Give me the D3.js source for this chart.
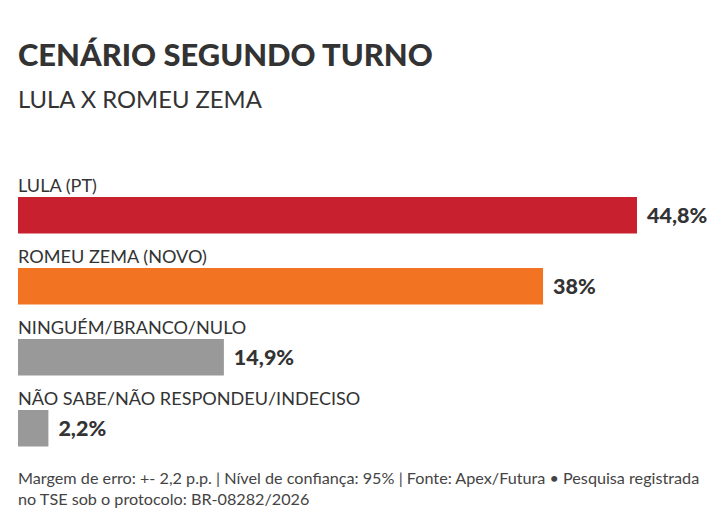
<!DOCTYPE html>
<html>
<head>
<meta charset="utf-8">
<script src="https://cdn.jsdelivr.net/npm/d3@7"></script>
<style>
  html, body { margin: 0; padding: 0; background: #fff; }
  svg { display: block; font-family: "Source Sans Pro", Lato, "Noto Sans", sans-serif; }
</style>
</head>
<body>
<svg id="chart" width="708" height="521"></svg>
<script>
var categories = ['LULA (PT)', 'ROMEU ZEMA (NOVO)', 'NINGUÉM/BRANCO/NULO', 'NÃO SABE/NÃO RESPONDEU/INDECISO'];
var values = [44.8, 38, 14.9, 2.2];
var valueLabels = ['44,8%', '38%', '14,9%', '2,2%'];
var colors = ['#c8202e', '#f27322', '#999999', '#999999'];

var title = 'CENÁRIO SEGUNDO TURNO';
var subtitle = 'LULA X ROMEU ZEMA';
var footer = [
  'Margem de erro: +- 2,2 p.p. | Nível de confiança: 95% | Fonte: Apex/Futura • Pesquisa registrada',
  'no TSE sob o protocolo: BR-08282/2026'
];

var svg = d3.select('#chart');
var left = 18;

var x = d3.scaleLinear().domain([0, 44.8]).range([left, 637]);
var y = d3.scaleBand().domain(categories).range([168, 452]).paddingInner(0).paddingOuter(0);
var barH = 36.5;

svg.append('text')
  .attr('x', left).attr('y', 66)
  .attr('font-size', 30.9).attr('font-weight', 900).attr('fill', '#333')
  .text(title);

svg.append('text')
  .attr('x', left).attr('y', 108)
  .attr('font-size', 23.8).attr('fill', '#333')
  .text(subtitle);

var rows = svg.selectAll('.row')
  .data(categories)
  .enter().append('g').classed('row', true)
  .attr('transform', function (d) { return 'translate(0,' + y(d) + ')'; });

rows.append('text')
  .attr('x', left).attr('y', 24)
  .attr('font-size', 18.1).attr('fill', '#333')
  .text(function (d) { return d; });

rows.append('rect')
  .attr('x', x(0))
  .attr('y', 29)
  .attr('width', function (d, i) { return x(values[i]) - x(0); })
  .attr('height', barH)
  .attr('fill', function (d, i) { return colors[i]; });

rows.append('text')
  .attr('x', function (d, i) { return x(values[i]) + 10; })
  .attr('y', 29 + barH / 2)
  .attr('dy', '0.36em')
  .attr('font-size', 21.5).attr('font-weight', 900).attr('fill', '#333')
  .text(function (d, i) { return valueLabels[i]; });

svg.selectAll('.foot')
  .data(footer)
  .enter().append('text').classed('foot', true)
  .attr('x', left)
  .attr('y', function (d, i) { return 484 + i * 21; })
  .attr('font-size', 16.2).attr('fill', '#444')
  .text(function (d) { return d; });
</script>
</body>
</html>
